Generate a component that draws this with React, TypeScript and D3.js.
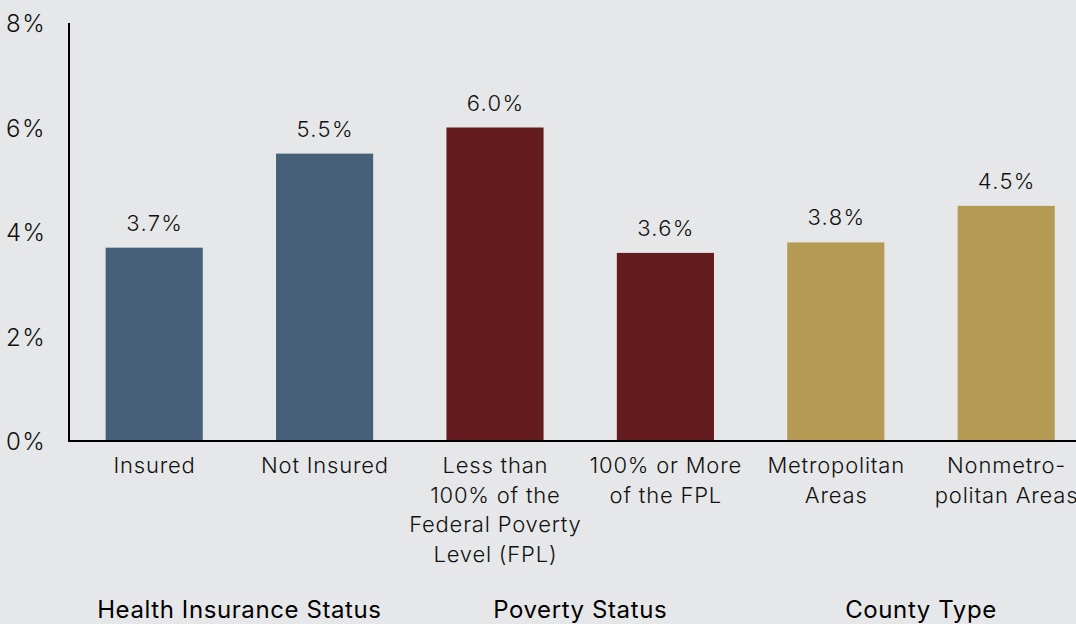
import React from "react";
import * as d3 from "d3";

const categories: string[][] = [
  ["Insured"],
  ["Not Insured"],
  ["Less than", "100% of the", "Federal Poverty", "Level (FPL)"],
  ["100% or More", "of the FPL"],
  ["Metropolitan", "Areas"],
  ["Nonmetro-", "politan Areas"],
];
const values: number[] = [3.7, 5.5, 6.0, 3.6, 3.8, 4.5];
const groupOf: number[] = [0, 0, 1, 1, 2, 2];
const groups: string[] = ["Health Insurance Status", "Poverty Status", "County Type"];
const groupColors: string[] = ["#466079", "#641b1e", "#b49a52"];
const yTicks: number[] = [0, 2, 4, 6, 8];

const W = 1076;
const H = 624;
const FONT = "Inter, 'Liberation Sans', Arial, sans-serif";

export default function App() {
  const x = d3
    .scaleBand<number>()
    .domain(values.map((_, i) => i))
    .range([69, 69 + 6 * 170.4])
    .paddingInner(0.43)
    .paddingOuter(0.215);
  const y = d3.scaleLinear().domain([0, 8]).range([441, 23]);
  const bw = x.bandwidth();

  return (
    <div style={{ position: "fixed", left: 0, top: 0, width: W, height: H }}>
      <svg width={W} height={H} style={{ display: "block", background: "#e6e7e8" }}>
        {values.map((v, i) => (
          <rect
            key={"b" + i}
            x={x(i)}
            y={y(v)}
            width={bw}
            height={y(0) - y(v)}
            fill={groupColors[groupOf[i]]}
          />
        ))}
        {values.map((v, i) => (
          <text
            key={"v" + i}
            x={(x(i) as number) + bw / 2 + 0.6}
            y={y(v) - 17}
            textAnchor="middle"
            fontFamily={FONT}
            fontSize={22}
            fontWeight={300}
            letterSpacing={1.3}
            fill="#111"
          >
            {v.toFixed(1) + "%"}
          </text>
        ))}
        <line x1={69} x2={69} y1={y(8)} y2={y(0)} stroke="#000" strokeWidth={2} />
        <line x1={68} x2={W} y1={y(0)} y2={y(0)} stroke="#000" strokeWidth={2} />
        {yTicks.map((t) => (
          <text
            key={"t" + t}
            x={6}
            y={y(t) + 9}
            fontFamily={FONT}
            fontSize={24}
            fontWeight={300}
            letterSpacing={1.5}
            fill="#111"
          >
            {t + "%"}
          </text>
        ))}
        {categories.map((lines, i) => (
          <text
            key={"c" + i}
            x={(x(i) as number) + bw / 2 + 0.4}
            textAnchor="middle"
            fontFamily={FONT}
            fontSize={22}
            fontWeight={300}
            letterSpacing={0.8}
            fill="#111"
          >
            {lines.map((l, j) => (
              <tspan key={j} x={(x(i) as number) + bw / 2 + 0.4} y={473 + j * 29.5}>
                {l}
              </tspan>
            ))}
          </text>
        ))}
        {groups.map((g, gi) => {
          const idx = groupOf.map((gg, i) => (gg === gi ? i : -1)).filter((i) => i >= 0);
          const cx = d3.mean(idx, (i) => (x(i) as number) + bw / 2) as number;
          return (
            <text
              key={"g" + gi}
              x={cx}
              y={618}
              textAnchor="middle"
              fontFamily={FONT}
              fontSize={24}
              letterSpacing={0.6}
              fill="#000"
            >
              {g}
            </text>
          );
        })}
      </svg>
    </div>
  );
}
